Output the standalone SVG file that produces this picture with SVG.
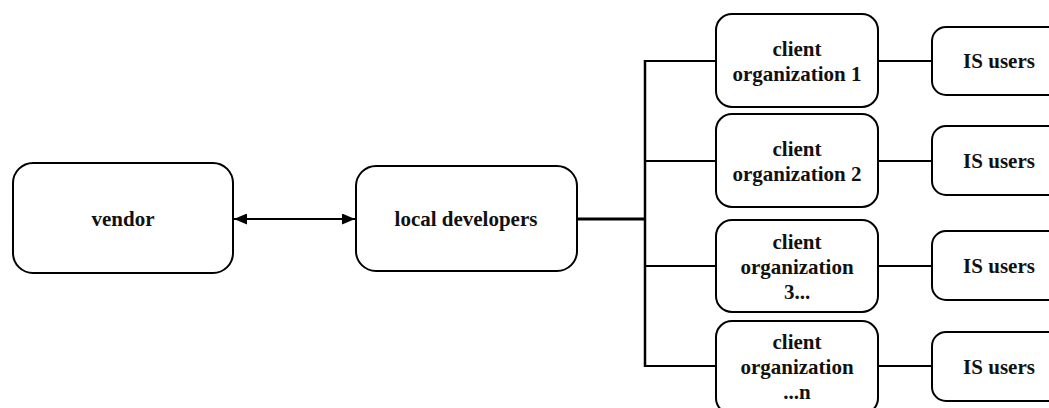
<svg xmlns="http://www.w3.org/2000/svg" width="1049" height="408" viewBox="0 0 1049 408">
<style>
.box{fill:#fff;stroke:#000;stroke-width:2}
.t{font-family:"Liberation Serif","Times New Roman",serif;font-weight:bold;font-size:21px;fill:#111;text-anchor:middle}
.c{fill:none;stroke:#000;stroke-width:2}
</style>
<defs>
<marker id="ah" markerWidth="13" markerHeight="11" refX="13" refY="5.5" orient="auto-start-reverse" markerUnits="userSpaceOnUse">
<path d="M0,0 L13,5.5 L0,11 Z" fill="#000"/>
</marker>
</defs>
<rect width="1049" height="408" fill="#fff"/>
<g id="connectors">
<line class="c" x1="234" y1="219" x2="355" y2="219" marker-start="url(#ah)" marker-end="url(#ah)"/>
<line class="c" x1="577" y1="219" x2="645" y2="219" style="stroke-width:3"/>
<line class="c" x1="645" y1="60" x2="645" y2="367" style="stroke-width:2.5"/>
<line class="c" x1="644" y1="61" x2="716" y2="61"/>
<line class="c" x1="644" y1="161" x2="716" y2="161"/>
<line class="c" x1="644" y1="266" x2="716" y2="266"/>
<line class="c" x1="644" y1="366" x2="716" y2="366"/>
<line class="c" x1="878" y1="61" x2="932" y2="61"/>
<line class="c" x1="878" y1="161" x2="932" y2="161"/>
<line class="c" x1="878" y1="266" x2="932" y2="266"/>
<line class="c" x1="878" y1="366" x2="932" y2="366"/>
</g>
<g id="vendor">
<rect class="box" x="13" y="163" width="220" height="110" rx="20"/>
<text class="t" x="123" y="226">vendor</text>
</g>
<g id="local-developers">
<rect class="box" x="356" y="166" width="221" height="105" rx="20"/>
<text class="t" x="466" y="226">local developers</text>
</g>
<g id="client1">
<rect class="box" x="716" y="14" width="162" height="93" rx="16"/>
<text class="t" x="797" y="56">client</text>
<text class="t" x="797" y="81">organization 1</text>
</g>
<g id="client2">
<rect class="box" x="716" y="114" width="162" height="93" rx="16"/>
<text class="t" x="797" y="156">client</text>
<text class="t" x="797" y="181">organization 2</text>
</g>
<g id="client3">
<rect class="box" x="716" y="220" width="162" height="92" rx="16"/>
<text class="t" x="797" y="249">client</text>
<text class="t" x="797" y="274">organization</text>
<text class="t" x="797" y="299">3...</text>
</g>
<g id="clientn">
<rect class="box" x="716" y="321" width="162" height="93" rx="16"/>
<text class="t" x="797" y="349">client</text>
<text class="t" x="797" y="374">organization</text>
<text class="t" x="797" y="399">...n</text>
</g>
<g id="users1">
<rect class="box" x="932" y="27" width="134" height="68" rx="14"/>
<text class="t" x="999" y="68">IS users</text>
</g>
<g id="users2">
<rect class="box" x="932" y="126" width="134" height="69" rx="14"/>
<text class="t" x="999" y="168">IS users</text>
</g>
<g id="users3">
<rect class="box" x="932" y="231" width="134" height="69" rx="14"/>
<text class="t" x="999" y="273">IS users</text>
</g>
<g id="users4">
<rect class="box" x="932" y="332" width="134" height="69" rx="14"/>
<text class="t" x="999" y="374">IS users</text>
</g>
</svg>
